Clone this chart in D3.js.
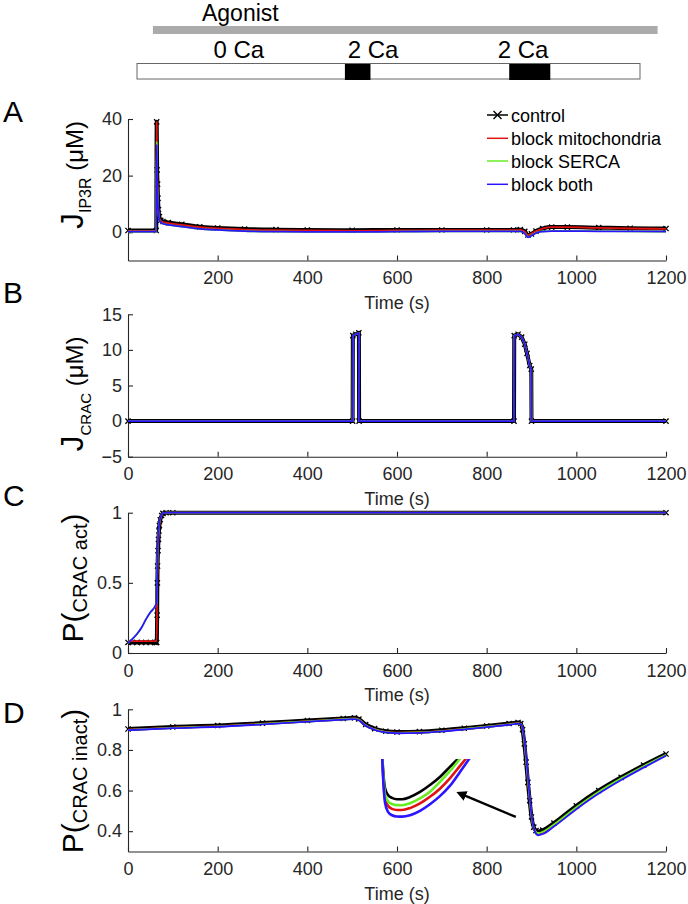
<!DOCTYPE html>
<html><head><meta charset="utf-8">
<script src="https://cdn.jsdelivr.net/npm/d3@7"></script>
<style>
body{margin:0;background:#fff}
svg{display:block}
text{font-family:"Liberation Sans",Arial,Helvetica,sans-serif}
</style>
</head><body>
<svg id="c" width="688" height="904"></svg>
<script>
// ---------------- DATA ----------------
const seriesNames = ["control", "block mitochondria", "block SERCA", "block both"];

// protocol schematic (time in s)
const agonistRange = [38, 1242];
const caBlocks = [[496, 557], [888, 986]];
const protocolLabels = ["0 Ca", "2 Ca", "2 Ca"];
const protocolLabelT = [243, 563, 921];

// Panel A: J_IP3R
const tA = [0, 63, 64, 65, 66, 67, 68, 70, 73, 78, 90, 120, 160, 200, 260, 330, 400, 500, 600, 700, 800, 860, 875, 885, 892, 900, 910, 925, 945, 980, 1050, 1120, 1200];
const controlA = [0.6, 0.6, 39, 22, 17, 12, 8, 5.5, 4.2, 3.8, 3.4, 2.8, 1.9, 1.5, 1.1, 0.9, 0.8, 0.7, 0.8, 0.8, 0.8, 0.8, 0.9, 0.3, -1.0, -0.6, 0.4, 1.3, 1.8, 1.8, 1.6, 1.4, 1.3];
const redA = [0.5, 0.5, 39, 21, 16, 11, 7.5, 5, 4, 3.6, 3.2, 2.6, 1.8, 1.3, 0.9, 0.7, 0.6, 0.5, 0.6, 0.7, 0.7, 0.7, 0.8, 0.2, -1.0, -0.5, 0.4, 1.3, 1.8, 1.8, 1.5, 1.3, 1.2];
const greenA = [0.2, 0.2, 32, 18, 13, 9, 6.5, 4.5, 3.5, 3.0, 2.6, 2.0, 1.2, 0.8, 0.4, 0.2, 0.1, 0.1, 0.2, 0.3, 0.3, 0.3, 0.3, -0.4, -1.7, -1.1, -0.2, 0.3, 0.5, 0.5, 0.4, 0.3, 0.2];
const blueA = [0.2, 0.2, 31, 18, 13, 9, 6.5, 4.5, 3.5, 3.0, 2.6, 2.0, 1.2, 0.8, 0.4, 0.2, 0.1, 0.1, 0.2, 0.3, 0.3, 0.3, 0.3, -0.5, -1.8, -1.2, -0.3, 0.2, 0.4, 0.4, 0.3, 0.3, 0.2];

// Panel B: J_CRAC
const tB = [0, 501, 501.5, 508, 515, 515.5, 861, 861.5, 870, 878, 885, 890, 896, 899.5, 900, 1200];
const controlB = [0, 0, 12.0, 12.2, 12.4, 0, 0, 12.0, 12.2, 11.8, 10.8, 9.5, 7.8, 7.3, 0, 0];
const redB = [0, 0, 12.0, 12.2, 12.4, 0, 0, 12.0, 12.2, 11.8, 10.8, 9.5, 7.8, 7.3, 0, 0];
const greenB = [0, 0, 12.0, 12.2, 12.4, 0, 0, 12.0, 12.2, 11.8, 10.8, 9.5, 7.8, 7.3, 0, 0];
const blueB = [0, 0, 12.0, 12.2, 12.4, 0, 0, 12.0, 12.2, 11.8, 10.8, 9.5, 7.8, 7.3, 0, 0];

// Panel C: P(CRAC act)
const tC = [0, 10, 20, 30, 40, 50, 60, 63, 64, 65, 65.5, 66, 67, 68, 69, 70, 72, 75, 78, 85, 100, 1200];
const controlC = [0.075, 0.075, 0.075, 0.075, 0.075, 0.075, 0.075, 0.075, 0.075, 0.27, 0.5, 0.62, 0.73, 0.81, 0.87, 0.91, 0.95, 0.98, 0.995, 1, 1, 1];
const redC = [0.085, 0.085, 0.085, 0.085, 0.085, 0.085, 0.085, 0.085, 0.085, 0.4, 0.55, 0.65, 0.74, 0.82, 0.87, 0.91, 0.95, 0.98, 0.995, 1, 1, 1];
const greenC = [0.07, 0.1, 0.135, 0.18, 0.24, 0.29, 0.33, 0.35, 0.36, 0.55, 0.65, 0.72, 0.8, 0.86, 0.9, 0.93, 0.96, 0.985, 0.997, 1, 1, 1];
const blueC = [0.07, 0.1, 0.135, 0.18, 0.24, 0.29, 0.33, 0.35, 0.36, 0.55, 0.65, 0.72, 0.8, 0.86, 0.9, 0.93, 0.96, 0.985, 0.997, 1, 1, 1];

// Panel D: P(CRAC inact)
const tD = [0, 100, 200, 300, 400, 480, 505, 515, 530, 550, 575, 600, 650, 700, 750, 800, 850, 870, 876, 880, 884, 888, 892, 896, 900, 905, 910, 915, 925, 950, 1000, 1050, 1100, 1150, 1200];
const controlD = [0.903, 0.913, 0.920, 0.932, 0.945, 0.955, 0.958, 0.952, 0.925, 0.905, 0.892, 0.888, 0.890, 0.897, 0.907, 0.918, 0.930, 0.935, 0.930, 0.900, 0.830, 0.740, 0.640, 0.550, 0.470, 0.420, 0.403, 0.398, 0.405, 0.440, 0.525, 0.600, 0.665, 0.725, 0.780];
const redD = [0.900, 0.910, 0.917, 0.929, 0.942, 0.952, 0.955, 0.949, 0.922, 0.902, 0.889, 0.885, 0.887, 0.894, 0.904, 0.915, 0.927, 0.932, 0.928, 0.905, 0.840, 0.750, 0.650, 0.555, 0.470, 0.415, 0.393, 0.387, 0.393, 0.430, 0.515, 0.592, 0.658, 0.718, 0.775];
const greenD = [0.899, 0.909, 0.916, 0.928, 0.941, 0.951, 0.954, 0.948, 0.921, 0.901, 0.888, 0.884, 0.886, 0.893, 0.903, 0.914, 0.926, 0.931, 0.928, 0.908, 0.845, 0.755, 0.655, 0.560, 0.473, 0.417, 0.397, 0.391, 0.397, 0.433, 0.518, 0.594, 0.660, 0.720, 0.776];
const blueD = [0.897, 0.907, 0.914, 0.926, 0.939, 0.949, 0.952, 0.946, 0.919, 0.899, 0.886, 0.882, 0.884, 0.891, 0.901, 0.912, 0.924, 0.929, 0.927, 0.910, 0.855, 0.770, 0.670, 0.570, 0.480, 0.418, 0.388, 0.380, 0.386, 0.423, 0.508, 0.585, 0.652, 0.713, 0.772];

// Inset (zoom of the minimum in D)
const insetT = [903.5, 904.2, 904.9, 906.3, 908.2, 910.5, 912.9, 916.7, 921.4, 926.1, 930.8, 935.5, 940.2, 944.9];
const insetControl = [0.440, 0.419, 0.4065, 0.3996, 0.3967, 0.3954, 0.3954, 0.3976, 0.4026, 0.4094, 0.4173, 0.4272, 0.437, 0.447];
const insetRed = [0.440, 0.412, 0.396, 0.3890, 0.3860, 0.3849, 0.3848, 0.3867, 0.3913, 0.3978, 0.4058, 0.4160, 0.4280, 0.440];
const insetGreen = [0.440, 0.415, 0.400, 0.3935, 0.3907, 0.3896, 0.3895, 0.3915, 0.3962, 0.4028, 0.4125, 0.4230, 0.4350, 0.446];
const insetBlue = [0.440, 0.409, 0.392, 0.3830, 0.3797, 0.3785, 0.3783, 0.3797, 0.3840, 0.3905, 0.3985, 0.4085, 0.4220, 0.436];
const arrowFrom = [865, 0.47];
const arrowTo = [749, 0.577];

// Ticks
const xTicksA = [200, 400, 600, 800, 1000, 1200];
const xTicks = [0, 200, 400, 600, 800, 1000, 1200];
const yTicksA = [0, 20, 40];
const yTicksB = [-5, 0, 5, 10, 15];
const yTicksC = [0, 0.5, 1];
const yTicksD = [0.4, 0.6, 0.8, 1];

// ---------------- DRAW ----------------
const svg = d3.select("#c");
const AX = "#262626";
const COLORS = ["#000000", "#e01212", "#66ee22", "#2b14ff"];
const FONT = '"Liberation Sans", Arial, Helvetica, sans-serif';

// Protocol header
const hx = d3.scaleLinear().domain([0, 1200]).range([137, 640]);
svg.append("text").attr("x", hx(155)).attr("y", 21).attr("font-size", 23).attr("fill", "#000").text("Agonist");
svg.append("rect").attr("x", hx(agonistRange[0])).attr("y", 26)
  .attr("width", hx(agonistRange[1]) - hx(agonistRange[0])).attr("height", 8).attr("fill", "#ababab");
svg.append("rect").attr("x", hx(0)).attr("y", 63.5).attr("width", hx(1200) - hx(0)).attr("height", 15.5)
  .attr("fill", "#fff").attr("stroke", "#666").attr("stroke-width", 1);
svg.selectAll("rect.ca").data(caBlocks).enter().append("rect").attr("class", "ca")
  .attr("x", d => hx(d[0])).attr("y", 64).attr("width", d => hx(d[1]) - hx(d[0])).attr("height", 16).attr("fill", "#000");
svg.selectAll("text.pl").data(protocolLabels).enter().append("text").attr("class", "pl")
  .attr("x", (d, i) => hx(protocolLabelT[i])).attr("y", 58).attr("text-anchor", "middle")
  .attr("font-size", 24).attr("fill", "#000").text(d => d);

const x = d3.scaleLinear().domain([0, 1200]).range([128, 666]);

function markerPath(s) { return `M${-s},${-s}L${s},${s}M${-s},${s}L${s},${-s}`; }

function panel(cfg) {
  const y = d3.scaleLinear().domain(cfg.domain).range([cfg.bottom, cfg.top]);
  const g = svg.append("g");
  const xa = g.append("g").attr("transform", `translate(0,${cfg.bottom})`)
    .call(d3.axisBottom(x).tickValues(cfg.xticks).tickSizeInner(-5).tickSizeOuter(0).tickPadding(11).tickFormat(d3.format("d")));
  const ya = g.append("g").attr("transform", `translate(${x.range()[0]},0)`)
    .call(d3.axisLeft(y).tickValues(cfg.yticks).tickSizeInner(-5).tickSizeOuter(0).tickPadding(6).tickFormat(cfg.yfmt));
  [xa, ya].forEach(a => {
    a.attr("font-family", FONT).attr("font-size", 18);
    a.select(".domain").attr("stroke", AX).attr("stroke-width", 1.1);
    a.selectAll(".tick line").attr("stroke", AX).attr("stroke-width", 1.1);
    a.selectAll(".tick text").attr("fill", AX);
  });
  g.append("text").attr("x", (x.range()[0] + x.range()[1]) / 2).attr("y", cfg.bottom + 48)
    .attr("text-anchor", "middle").attr("font-size", 18).attr("fill", AX).text("Time (s)");
  g.append("text").attr("x", 3).attr("y", cfg.letterY).attr("font-size", 30).attr("fill", "#000").text(cfg.letter);
  const yl = g.append("text").attr("transform", `translate(83,${cfg.labelCY}) rotate(-90)`)
    .attr("text-anchor", "middle").attr("fill", "#000");
  cfg.label.forEach(p => yl.append("tspan").attr("font-size", p.size).attr("dy", p.dy || 0).text(p.t));
  const line = d3.line().x(d => x(d[0])).y(d => y(d[1])).curve(cfg.curve);
  cfg.series.forEach((vals, i) => {
    const pts = cfg.t.map((t, k) => [t, vals[k]]);
    g.append("path").datum(pts).attr("d", line).attr("fill", "none")
      .attr("stroke", COLORS[i]).attr("stroke-width", i === 0 ? 4 : 1.8).attr("stroke-linejoin", "round");
    if (i === 0) {
      g.selectAll(null).data(pts).enter().append("path")
        .attr("transform", d => `translate(${x(d[0])},${y(d[1])})`)
        .attr("d", markerPath(2.6)).attr("stroke", "#000").attr("stroke-width", 1.3).attr("fill", "none");
    }
  });
  return y;
}

const fmtInt = d3.format("d");
const fmtDec = d => (d === 0 || d === 1) ? String(d) : d3.format(".1f")(d);

panel({ letter: "A", letterY: 122, top: 119, bottom: 260.5, domain: [-10, 40], xticks: xTicksA, yticks: yTicksA, yfmt: fmtInt,
  labelCY: 175, label: [{ t: "J", size: 32 }, { t: "IP3R", size: 16, dy: 8 }, { t: " (μM)", size: 24, dy: -8 }],
  t: tA, series: [controlA, redA, greenA, blueA], curve: d3.curveMonotoneX });

panel({ letter: "B", letterY: 303, top: 314.3, bottom: 456.7, domain: [-5, 15], xticks: xTicks, yticks: yTicksB, yfmt: fmtInt,
  labelCY: 394, label: [{ t: "J", size: 32 }, { t: "CRAC", size: 15, dy: 8 }, { t: " (μM)", size: 24, dy: -8 }],
  t: tB, series: [controlB, redB, greenB, blueB], curve: d3.curveLinear });

panel({ letter: "C", letterY: 506, top: 512.7, bottom: 653, domain: [0, 1], xticks: xTicks, yticks: yTicksC, yfmt: fmtDec,
  labelCY: 578, label: [{ t: "P(", size: 30 }, { t: "CRAC act", size: 20, dy: 4 }, { t: ")", size: 30, dy: -4 }],
  t: tC, series: [controlC, redC, greenC, blueC], curve: d3.curveMonotoneX });

const yD = panel({ letter: "D", letterY: 723, top: 709.3, bottom: 851.5, domain: [0.3, 1], xticks: xTicks, yticks: yTicksD, yfmt: fmtDec,
  labelCY: 781, label: [{ t: "P(", size: 30 }, { t: "CRAC inact", size: 20, dy: 4 }, { t: ")", size: 30, dy: -4 }],
  t: tD, series: [controlD, redD, greenD, blueD], curve: d3.curveMonotoneX });

// Inset
const ix = d3.scaleLinear().domain([903, 945]).range([381, 470]);
const iy = d3.scaleLinear().domain([0.375, 0.435]).range([820, 759]);
svg.append("clipPath").attr("id", "insetClip").append("rect").attr("x", 372).attr("y", 759).attr("width", 110).attr("height", 70);
const ig = svg.append("g").attr("clip-path", "url(#insetClip)");
const iline = d3.line().x(d => ix(d[0])).y(d => iy(d[1])).curve(d3.curveMonotoneX);
[insetControl, insetRed, insetGreen, insetBlue].forEach((vals, i) => {
  ig.append("path").datum(insetT.map((t, k) => [t, vals[k]])).attr("d", iline)
    .attr("fill", "none").attr("stroke", COLORS[i]).attr("stroke-width", 2.6);
});

// Arrow
const defs = svg.append("defs");
defs.append("marker").attr("id", "ah").attr("viewBox", "0 0 10 10").attr("refX", 2).attr("refY", 5)
  .attr("markerWidth", 4.2).attr("markerHeight", 4.2).attr("orient", "auto")
  .append("path").attr("d", "M0,0L10,5L0,10z").attr("fill", "#000");
svg.append("line").attr("x1", x(arrowFrom[0])).attr("y1", yD(arrowFrom[1]))
  .attr("x2", x(arrowTo[0])).attr("y2", yD(arrowTo[1]))
  .attr("stroke", "#000").attr("stroke-width", 2.4).attr("marker-end", "url(#ah)");

// Legend
const lg = svg.append("g");
const legY = [115, 138.3, 161, 184.3];
seriesNames.forEach((n, i) => {
  lg.append("line").attr("x1", 487).attr("x2", 508).attr("y1", legY[i]).attr("y2", legY[i])
    .attr("stroke", COLORS[i]).attr("stroke-width", 1.5);
  if (i === 0) lg.append("path").attr("transform", `translate(497.5,${legY[i]})`).attr("d", markerPath(4))
    .attr("stroke", "#000").attr("stroke-width", 1.4);
  lg.append("text").attr("x", 511).attr("y", legY[i] + 6.5).attr("font-size", 18).attr("fill", "#000").text(n);
});
</script>
</body></html>
